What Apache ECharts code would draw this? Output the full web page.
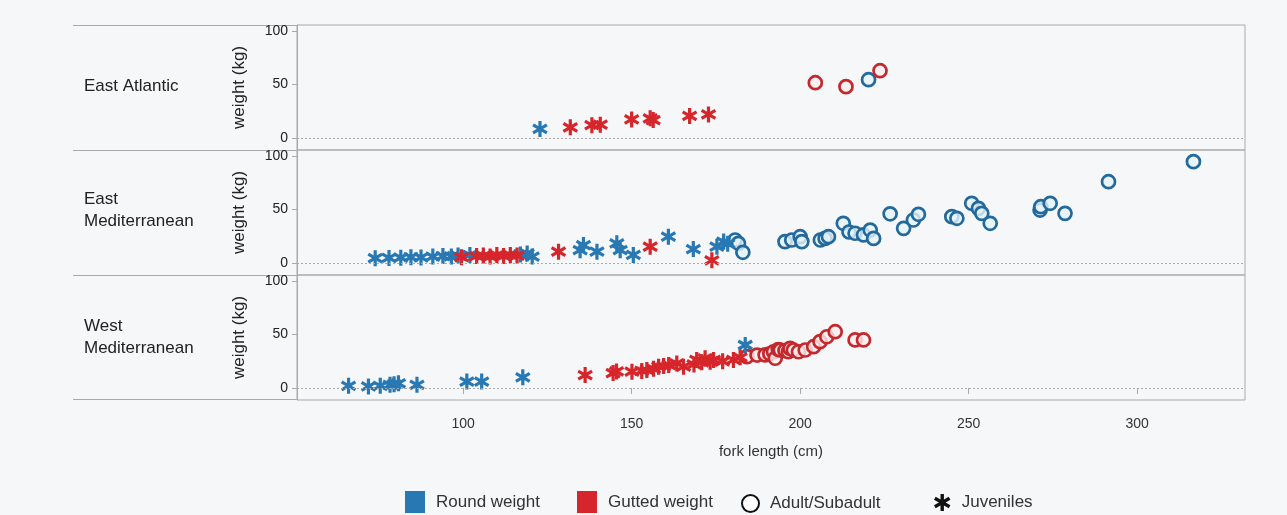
<!DOCTYPE html>
<html>
<head>
<meta charset="utf-8">
<script src="https://cdn.jsdelivr.net/npm/echarts@6/dist/echarts.min.js"></script>
<style>
html,body{margin:0;padding:0;background:#f6f7f8;}
#chart{width:1287px;height:515px;}
</style>
</head>
<body>
<div id="chart"></div>
<script>
// ---------- data: [fork length (cm), weight (kg)] ----------
const panelNames = ['East Atlantic', 'East\nMediterranean', 'West\nMediterranean'];
const xTicks = [100, 150, 200, 250, 300];
const yTicks = [0, 50, 100];
const legendNames = ['Round weight', 'Gutted weight', 'Adult/Subadult', 'Juveniles'];

// East Atlantic
const eaRoundAdult = [[220.3, 54.5]];
const eaGuttedAdult = [[204.5, 51.7], [213.6, 48], [223.7, 62.9]];
const eaRoundJuv = [[122.8, 8.5]];
const eaGuttedJuv = [[131.8, 10], [138.2, 12], [140.7, 12.5], [150, 17.4], [155.5, 18.4], [156.4, 16.8], [167.2, 20.6], [172.8, 22]];

// East Mediterranean
const emRoundAdult = [[180.7, 21.5], [181.7, 18.4], [183, 10], [195.5, 20], [197.5, 21.5], [200, 24.6], [200.5, 20], [206, 21.5], [207.4, 23], [208.4, 24.6], [212.8, 37.1], [214.5, 29], [216.3, 27.8], [218.8, 26.2], [220.8, 30.8], [221.8, 23], [226.7, 46], [230.7, 32.4], [233.6, 40.2], [235.1, 45.5], [245, 43.3], [246.5, 41.8], [250.9, 55.8], [252.9, 51.1], [253.9, 46.4], [256.4, 37.1], [271.2, 49.5], [271.4, 52.6], [274.2, 55.8], [278.6, 46.4], [291.5, 76], [316.7, 94.7]];
const emGuttedAdult = [];
const emRoundJuv = [[73.9, 4.5], [78, 4.8], [81.5, 5], [84.5, 5.5], [87.5, 5.2], [91, 6], [94, 6.5], [96.5, 6.2], [98.5, 7], [102, 7.5], [117, 8], [119, 9], [120.5, 6], [134.7, 12], [135.7, 16.8], [139.7, 10.6], [145.6, 18.4], [146.6, 12], [150.5, 7.5], [160.9, 24.6], [168.3, 13], [175.3, 15.3], [177.3, 20], [178.5, 18]];
const emGuttedJuv = [[99.5, 5.5], [104, 6.5], [106, 7], [108, 6], [110, 7.5], [112, 6.5], [114, 7.5], [116, 7], [128.3, 10.6], [155.5, 15.3], [173.8, 2.5]];

// West Mediterranean
const wmRoundAdult = [];
const wmGuttedAdult = [[184.2, 29.3], [187.2, 30.8], [189.6, 31], [191, 32], [192.1, 33.9], [192.6, 27.8], [193.5, 36], [194.1, 35.5], [195.5, 35], [196.5, 33.9], [197, 37], [198, 35.5], [199.5, 33.9], [201.5, 35.5], [204, 38.6], [205.9, 43.3], [207.9, 47.9], [210.4, 52.6], [216.3, 44.9], [218.8, 44.9]];
const wmRoundJuv = [[66, 2], [71.9, 1.5], [75.4, 2], [78.3, 3], [79.5, 3.5], [80.8, 4.4], [86.3, 3], [101.1, 6], [105.5, 6], [117.7, 10], [183.7, 40.2]];
const wmGuttedJuv = [[136.2, 12.1], [144.5, 14], [145.5, 15.5], [150.1, 15.3], [153, 16], [154.5, 16.8], [156.5, 18], [158, 19.9], [159.5, 20.5], [161, 21.5], [163.4, 23], [165.4, 19.9], [168.5, 22], [169.3, 26.2], [170.8, 24], [171.8, 27.8], [173.3, 24.6], [174.3, 26.2], [177, 25], [180.2, 26.2], [182.2, 28.7]];

const panels = [
  { roundAdult: eaRoundAdult, guttedAdult: eaGuttedAdult, roundJuv: eaRoundJuv, guttedJuv: eaGuttedJuv },
  { roundAdult: emRoundAdult, guttedAdult: emGuttedAdult, roundJuv: emRoundJuv, guttedJuv: emGuttedJuv },
  { roundAdult: wmRoundAdult, guttedAdult: wmGuttedAdult, roundJuv: wmRoundJuv, guttedJuv: wmGuttedJuv }
];

// ---------- styling ----------
const FONT = 'Liberation Sans, Arial, sans-serif';
const BLUE = '#2878b4';
const RED = '#d6262b';
const BLUE_EDGE = '#23699b';
const RED_EDGE = '#c4282d';
const STAR = 'path://M0.8,0L1.2,0L1.2,2L0.8,2ZM1.766,0.327L1.966,0.673L0.234,1.673L0.034,1.327ZM0.034,0.673L0.234,0.327L1.966,1.327L1.766,1.673Z';
const LEFT = 297, RIGHT = 42, TOPS = [25, 150, 275], H = 125;
const FRAME = '#a9a9a9';

const grids = TOPS.map(t => ({ left: LEFT, right: RIGHT, top: t, height: H, show: true, borderColor: FRAME, borderWidth: 1, backgroundColor: 'transparent' }));

const xAxes = TOPS.map((t, i) => {
  const last = i === 2;
  return {
    type: 'value', gridIndex: i, min: 50.7, max: 332,
    axisLine: { show: false },
    splitLine: { show: false },
    axisTick: { show: last, length: 6, lineStyle: { color: FRAME }, customValues: xTicks },
    axisLabel: { show: last, customValues: xTicks, fontFamily: FONT, fontSize: 14, color: '#333', margin: 17 },
    name: last ? 'fork length (cm)' : '', nameLocation: 'middle', nameGap: 44,
    nameTextStyle: { fontFamily: FONT, fontSize: 15, color: '#333' }
  };
});

const yAxes = TOPS.map((t, i) => ({
  type: 'value', gridIndex: i, min: -11.2, max: 105.6,
  axisLine: { show: true, lineStyle: { color: FRAME } },
  splitLine: { show: false },
  axisTick: { show: true, length: 5, lineStyle: { color: FRAME }, customValues: yTicks },
  axisLabel: { customValues: yTicks, fontFamily: FONT, fontSize: 14, color: '#222', margin: 9 },
  name: 'weight (kg)', nameLocation: 'middle', nameRotate: 90, nameGap: 49,
  nameTextStyle: { fontFamily: FONT, fontSize: 17, color: '#222' }
}));

const series = [];
panels.forEach((p, i) => {
  const base = { type: 'scatter', xAxisIndex: i, yAxisIndex: i, silent: true };
  series.push(Object.assign({}, base, {
    name: 'zero' + i, data: [], markLine: { silent: true, symbol: 'none', label: { show: false },
      lineStyle: { type: [2, 2], color: '#aaaaaa', width: 1 }, data: [{ yAxis: 0 }] }
  }));
  series.push(Object.assign({}, base, { name: 'ra' + i, data: p.roundAdult, symbol: 'circle', symbolSize: 13,
    itemStyle: { color: 'rgba(228,242,250,0.8)', borderColor: BLUE_EDGE, borderWidth: 2.7, opacity: 1 } }));
  series.push(Object.assign({}, base, { name: 'ga' + i, data: p.guttedAdult, symbol: 'circle', symbolSize: 13,
    itemStyle: { color: 'rgba(252,238,238,0.8)', borderColor: RED_EDGE, borderWidth: 2.7, opacity: 1 } }));
  series.push(Object.assign({}, base, { name: 'rj' + i, data: p.roundJuv, symbol: STAR, symbolSize: 16, symbolKeepAspect: true,
    itemStyle: { color: BLUE, opacity: 1 } }));
  series.push(Object.assign({}, base, { name: 'gj' + i, data: p.guttedJuv, symbol: STAR, symbolSize: 16, symbolKeepAspect: true,
    itemStyle: { color: RED, opacity: 1 } }));
});
// legend-only series
series.push({ type: 'scatter', name: legendNames[0], data: [], itemStyle: { color: BLUE, opacity: 1 } });
series.push({ type: 'scatter', name: legendNames[1], data: [], itemStyle: { color: RED, opacity: 1 } });
series.push({ type: 'scatter', name: legendNames[2], data: [], itemStyle: { color: '#fff', borderColor: '#111', borderWidth: 2, opacity: 1 } });
series.push({ type: 'scatter', name: legendNames[3], data: [], symbol: STAR, symbolKeepAspect: true, itemStyle: { color: '#111', opacity: 1 } });

const legendText = { fontFamily: FONT, fontSize: 17, color: '#333', padding: [0, 0, 0, 6] };
const legendBase = { padding: 0, selectedMode: false, textStyle: legendText };
const legends = [
  Object.assign({}, legendBase, { left: 405, top: 491, itemWidth: 20, itemHeight: 22,
    data: [{ name: legendNames[0], icon: 'rect', itemStyle: { color: BLUE, opacity: 1 } }] }),
  Object.assign({}, legendBase, { left: 577, top: 491, itemWidth: 20, itemHeight: 22,
    data: [{ name: legendNames[1], icon: 'rect', itemStyle: { color: RED, opacity: 1 } }] }),
  Object.assign({}, legendBase, { left: 741, top: 494, itemWidth: 17, itemHeight: 17,
    data: [{ name: legendNames[2], icon: 'circle', itemStyle: { color: '#fff', borderColor: '#111', borderWidth: 2, opacity: 1 } }] }),
  Object.assign({}, legendBase, { left: 934, top: 494, itemWidth: 17, itemHeight: 17,
    data: [{ name: legendNames[3], icon: STAR, itemStyle: { color: '#111', opacity: 1 } }] })
];

const graphics = [];
[25, 150, 275, 399].forEach(y => graphics.push({ type: 'line', silent: true, shape: { x1: 73, y1: y + 0.5, x2: LEFT, y2: y + 0.5 }, style: { stroke: FRAME, lineWidth: 1 } }));
const labelCenters = [86, 210, 337];
panelNames.forEach((n, i) => graphics.push({ type: 'text', silent: true, left: 84, top: labelCenters[i] - (n.indexOf('\n') >= 0 ? 22 : 11),
  style: { text: n, font: '17px ' + FONT, fill: '#222', lineHeight: 22 } }));

const chart = echarts.init(document.getElementById('chart'), null, { renderer: 'canvas' });
chart.setOption({
  backgroundColor: '#f6f7f8',
  animation: false,
  grid: grids, xAxis: xAxes, yAxis: yAxes,
  series: series, legend: legends, graphic: graphics
});
</script>
</body>
</html>
